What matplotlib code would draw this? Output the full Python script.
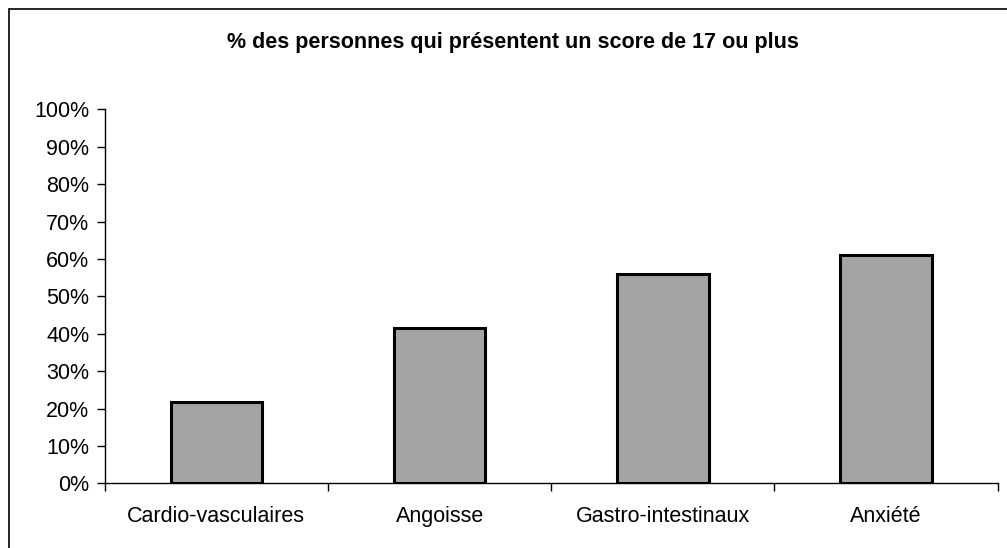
import matplotlib
matplotlib.use('Agg')
import matplotlib.pyplot as plt
import numpy as np
from matplotlib.patches import Rectangle

# data
categories = ['Cardio-vasculaires', 'Angoisse', 'Gastro-intestinaux', 'Anxiété']
values = [21.8, 41.4, 56.1, 61.0]
yticks = [0, 10, 20, 30, 40, 50, 60, 70, 80, 90, 100]

plt.rcParams['font.family'] = ['Liberation Sans', 'DejaVu Sans']

fig = plt.figure(figsize=(10.07, 5.48), dpi=100)
ax = fig.add_axes([0.104, 0.118, 0.8868, 0.6825])

x = np.arange(len(categories))
ax.bar(x, values, width=0.41, color='#a4a4a4', edgecolor='black', linewidth=2.2, zorder=3)

ax.set_xlim(-0.5, len(categories) - 0.5)
ax.set_ylim(0, 100)
ax.set_yticks(yticks)
ax.set_yticklabels([f'{t}%' for t in yticks], fontsize=15.5)

# category labels centred, tick marks on the boundaries
ax.set_xticks(x)
ax.set_xticklabels(categories, fontsize=15.5)
ax.tick_params(axis='x', length=0, pad=16)
ax.set_xticks(np.arange(len(categories) + 1) - 0.5, minor=True)
ax.tick_params(axis='x', which='minor', length=6, width=1, direction='out')
ax.tick_params(axis='y', length=6, width=1, direction='out', pad=5)

for s in ['top', 'right']:
    ax.spines[s].set_visible(False)
ax.spines['left'].set_linewidth(1)
ax.spines['bottom'].set_linewidth(1)

fig.text(0.509, 0.923, '% des personnes qui présentent un score de 17 ou plus',
         ha='center', va='center', fontsize=15.5, fontweight='bold')

# outer chart frame (only left and top are visible in the picture)
fig.patches.append(Rectangle((9 / 1007, -0.1), 1.2, 1 - 9 / 548 + 0.1,
                             transform=fig.transFigure, fill=False,
                             edgecolor='black', linewidth=1.2))

fig.savefig('out.png', dpi=100)
